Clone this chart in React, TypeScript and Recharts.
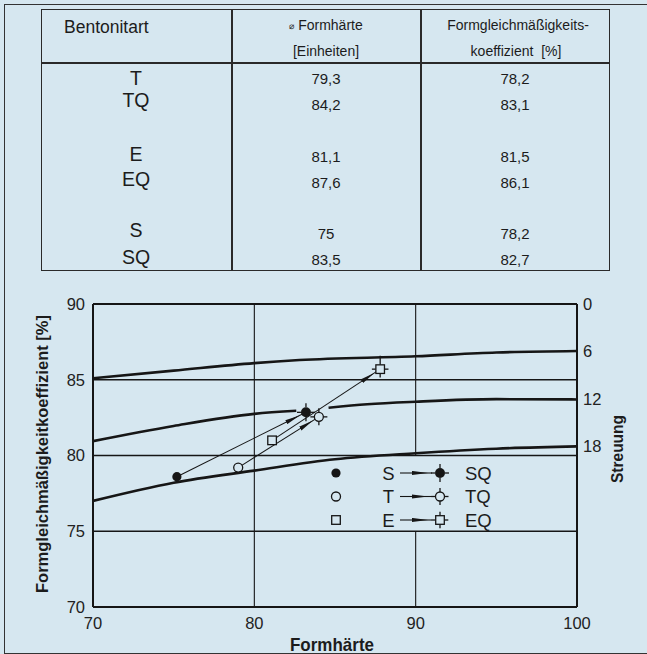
import { ComposedChart, Line, Scatter, XAxis, YAxis, ReferenceLine } from "recharts";

const BG = "#d6e7f0";
const INK = "#161616";
const FONT = '"Liberation Sans", Arial, sans-serif';

// table
const sorts = ["T", "TQ", "E", "EQ", "S", "SQ"];
const haerte = ["79,3", "84,2", "81,1", "87,6", "75", "83,5"];
const koeff = ["78,2", "83,1", "81,5", "86,1", "78,2", "82,7"];

// axes
const xTicks = [70, 80, 90, 100];
const yTicks = [70, 75, 80, 85, 90];
const streuungTicks = [0, 6, 12, 18];

// lines of equal Streuung (6, 12, 18)
const curve6 = [
  { x: 70, y: 85.1 }, { x: 75, y: 85.6 }, { x: 80, y: 86.1 }, { x: 82.8, y: 86.3 },
  { x: 90, y: 86.55 }, { x: 95, y: 86.8 }, { x: 100, y: 86.9 },
];
const curve12a = [
  { x: 70, y: 80.95 }, { x: 75, y: 81.95 }, { x: 80, y: 82.75 }, { x: 82.6, y: 82.95 },
];
const curve12b = [
  { x: 84.6, y: 83.15 }, { x: 87, y: 83.38 }, { x: 90, y: 83.55 }, { x: 95, y: 83.72 }, { x: 100, y: 83.7 },
];
const curve18 = [
  { x: 70, y: 77.0 }, { x: 75, y: 78.2 }, { x: 80, y: 79.0 }, { x: 85, y: 79.75 },
  { x: 90, y: 80.15 }, { x: 95, y: 80.45 }, { x: 100, y: 80.6 },
];

// measured points, without and with Q
const kinds = ["S", "T", "E"];
const baseX = [75.2, 79.0, 81.1];
const baseY = [78.6, 79.2, 81.0];
const quartzX = [83.2, 84.0, 87.8];
const quartzY = [82.85, 82.55, 85.7];

function drawMarker(kind: string, quartz: boolean, cx: number, cy: number, longTop = false) {
  const ticks = (r: number) => (
    <g stroke={INK} strokeWidth={1.3}>
      <line x1={cx - r - 4} y1={cy} x2={cx - r} y2={cy} />
      <line x1={cx + r} y1={cy} x2={cx + r + 4} y2={cy} />
      <line x1={cx} y1={cy + r} x2={cx} y2={cy + r + 4} />
      <line x1={cx} y1={cy - r - (longTop ? 9 : 4)} x2={cx} y2={cy - r} />
    </g>
  );
  if (kind === "S") {
    return (
      <g>
        {quartz && ticks(5)}
        <circle cx={cx} cy={cy} r={quartz ? 5 : 4.6} fill={INK} />
      </g>
    );
  }
  if (kind === "T") {
    return (
      <g>
        {quartz && ticks(4.5)}
        <circle cx={cx} cy={cy} r={4.5} fill={BG} stroke={INK} strokeWidth={1.3} />
      </g>
    );
  }
  return (
    <g>
      {quartz && ticks(4.3)}
      <rect x={cx - 4.3} y={cy - 4.3} width={8.6} height={8.6} fill={BG} stroke={INK} strokeWidth={1.3} />
    </g>
  );
}

function TableBlock() {
  const lettersY = [78, 99.5, 154, 179, 230, 256.5];
  const numbersY = [79, 105, 157, 183, 234, 260];
  const cell = (text: string, cx: number, cy: number, size: number, key?: string) => (
    <div
      key={key}
      style={{
        position: "absolute", left: cx - 110, width: 220, top: cy - 15, height: 30,
        lineHeight: "30px", textAlign: "center", fontSize: size, color: "#1c1c1c", whiteSpace: "pre",
      }}
    >
      {text}
    </div>
  );
  return (
    <div style={{ position: "absolute", left: 0, top: 0, fontFamily: FONT }}>
      <div style={{ position: "absolute", left: 41, top: 9, width: 569, height: 262, border: "1.5px solid #2a2a2a", boxSizing: "border-box" }} />
      <div style={{ position: "absolute", left: 41, top: 62, width: 569, height: 1.5, background: "#2a2a2a" }} />
      <div style={{ position: "absolute", left: 231, top: 9, width: 1.5, height: 262, background: "#2a2a2a" }} />
      <div style={{ position: "absolute", left: 420, top: 9, width: 1.5, height: 262, background: "#2a2a2a" }} />
      <div style={{ position: "absolute", left: 64, top: 14, height: 26, lineHeight: "26px", fontSize: 17.5, color: "#1c1c1c" }}>
        Bentonitart
      </div>
      <div style={{ position: "absolute", left: 216, width: 220, top: 15, height: 20, lineHeight: "20px", textAlign: "center", fontSize: 14, color: "#1c1c1c" }}>
        <span style={{ fontSize: 9, verticalAlign: "middle" }}>⌀</span> Formhärte
      </div>
      {cell("[Einheiten]", 326, 51, 14)}
      {cell("Formgleichmäßigkeits-", 518, 25, 14)}
      {cell("koeffizient  [%]", 516, 51, 14)}
      {sorts.map((s, i) => cell(s, 136, lettersY[i], 19.5, "l" + i))}
      {haerte.map((s, i) => cell(s, 326, numbersY[i], 15, "h" + i))}
      {koeff.map((s, i) => cell(s, 515, numbersY[i], 15, "k" + i))}
    </div>
  );
}

function Overlay() {
  const rowsY = [473, 496.5, 520];
  return (
    <svg width={647} height={654} style={{ position: "absolute", left: 0, top: 0, pointerEvents: "none" }}>
      <defs>
        <marker id="legendArrow" viewBox="0 0 16 5" markerWidth={16} markerHeight={5} refX={20} refY={2.5}
          orient="auto" markerUnits="userSpaceOnUse">
          <path d="M0,0.4 L16,2.5 L0,4.6 z" fill={INK} />
        </marker>
      </defs>
      {kinds.map((k, i) => (
        <g key={k} fontFamily={FONT} fontSize={18.5} fill="#1c1c1c">
          {drawMarker(k, false, 336, rowsY[i])}
          <text x={388.5} y={rowsY[i] + 6.6} textAnchor="middle">{k}</text>
          <line x1={400} y1={rowsY[i]} x2={432} y2={rowsY[i]} stroke={INK} strokeWidth={1.1} markerEnd="url(#legendArrow)" />
          {drawMarker(k, true, 440, rowsY[i])}
          <text x={465} y={rowsY[i] + 6.6}>{k + "Q"}</text>
        </g>
      ))}
      <text transform="translate(48,454) rotate(-90)" textAnchor="middle" fontFamily={FONT} fontWeight="bold"
        fontSize={17} fill="#1c1c1c" textLength={278} lengthAdjust="spacingAndGlyphs">
        Formgleichmäßigkeitkoeffizient [%]
      </text>
      <text transform="translate(623,449) rotate(-90)" textAnchor="middle" fontFamily={FONT} fontWeight="bold"
        fontSize={17} fill="#1c1c1c" textLength={68} lengthAdjust="spacingAndGlyphs">
        Streuung
      </text>
      <text x={332} y={651} textAnchor="middle" fontFamily={FONT} fontWeight="bold"
        fontSize={19} fill="#1c1c1c" textLength={84} lengthAdjust="spacingAndGlyphs">
        Formhärte
      </text>
    </svg>
  );
}

export default function App() {
  const tickStyle = { fontSize: 16.5, fill: "#222", fontFamily: FONT };
  const axisStroke = { stroke: INK, strokeWidth: 2 };
  const curveProps = {
    type: "monotone" as const, dataKey: "y", yAxisId: "left", stroke: INK, strokeWidth: 2.6,
    dot: false, activeDot: false, isAnimationActive: false,
  };
  return (
    <div style={{ position: "absolute", left: 0, top: 0, width: 647, height: 654, background: BG, overflow: "hidden" }}>
      <div style={{ position: "absolute", left: 4, top: 4, width: 660, height: 648, borderTop: "1.5px solid #333", borderLeft: "1.5px solid #333", borderBottom: "1.5px solid #333" }} />
      <TableBlock />
      <div style={{ position: "absolute", left: 0, top: 280 }}>
        <ComposedChart width={647} height={374} margin={{ top: 24, right: 10, bottom: 17, left: 33 }}>
          <defs>
            <marker id="arrowHead" viewBox="0 0 15 5" markerWidth={15} markerHeight={5} refX={22} refY={2.5}
              orient="auto" markerUnits="userSpaceOnUse">
              <path d="M0,0.3 L15,2.5 L0,4.7 z" fill={INK} />
            </marker>
          </defs>
          <XAxis type="number" dataKey="x" domain={[70, 100]} ticks={xTicks} interval={0}
            tickLine={false} tickMargin={4} tick={tickStyle} axisLine={axisStroke} allowDataOverflow />
          <YAxis yAxisId="left" type="number" domain={[70, 90]} ticks={yTicks} interval={0}
            tickLine={false} tick={tickStyle} axisLine={axisStroke} width={60} allowDataOverflow />
          <YAxis yAxisId="right" orientation="right" type="number" domain={[0, 38.4]} reversed
            ticks={streuungTicks} interval={0} tickLine={false} tickMargin={0} tick={{ ...tickStyle, textAnchor: "start" }}
            axisLine={axisStroke} width={60} allowDataOverflow />
          <ReferenceLine yAxisId="left" y={90} stroke={INK} strokeWidth={2} />
          <ReferenceLine yAxisId="left" y={85} stroke={INK} strokeWidth={1.6} />
          <ReferenceLine yAxisId="left" y={80} stroke={INK} strokeWidth={1.6} />
          <ReferenceLine yAxisId="left" y={75} stroke={INK} strokeWidth={1.4} />
          <ReferenceLine yAxisId="left" x={80} stroke={INK} strokeWidth={1.1} />
          <ReferenceLine yAxisId="left" segment={[{ x: 90, y: 90 }, { x: 90, y: 80 }]} stroke={INK} strokeWidth={1.1} />
          <ReferenceLine yAxisId="left" segment={[{ x: 90, y: 75 }, { x: 90, y: 70 }]} stroke={INK} strokeWidth={1.1} />
          <Line {...curveProps} data={curve6} />
          <Line {...curveProps} data={curve12a} />
          <Line {...curveProps} data={curve12b} />
          <Line {...curveProps} data={curve18} />
          {kinds.map((k, i) => (
            <Line
              key={"arrow" + k}
              type="linear"
              data={[{ x: baseX[i], y: baseY[i] }, { x: quartzX[i], y: quartzY[i] }]}
              dataKey="y"
              yAxisId="left"
              stroke={INK}
              strokeWidth={1.1}
              dot={false}
              activeDot={false}
              markerEnd="url(#arrowHead)"
              isAnimationActive={false}
            />
          ))}
          {kinds.map((k, i) => (
            <Scatter
              key={"base" + k}
              yAxisId="left"
              data={[{ x: baseX[i], y: baseY[i] }]}
              dataKey="y"
              isAnimationActive={false}
              shape={(p: any) => drawMarker(k, false, p.cx, p.cy)}
            />
          ))}
          {kinds.map((k, i) => (
            <Scatter
              key={"quartz" + k}
              yAxisId="left"
              data={[{ x: quartzX[i], y: quartzY[i] }]}
              dataKey="y"
              isAnimationActive={false}
              shape={(p: any) => drawMarker(k, true, p.cx, p.cy, k === "E")}
            />
          ))}
        </ComposedChart>
      </div>
      <Overlay />
    </div>
  );
}
